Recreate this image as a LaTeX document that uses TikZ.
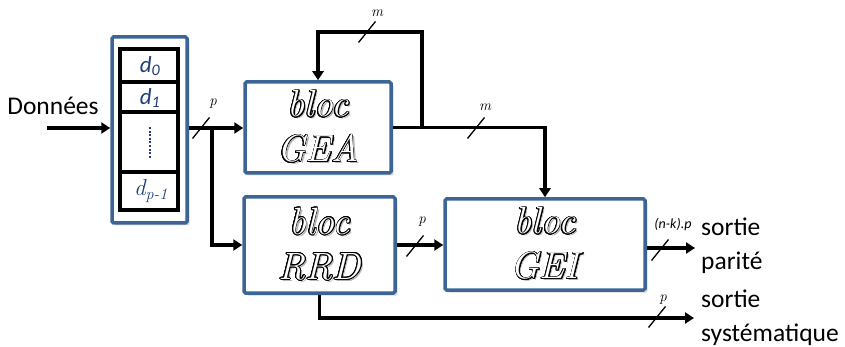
\documentclass[tikz,border=0pt]{standalone}
\usepackage{fontspec}
\newfontfamily\calib{Carlito}
\usepackage[copies]{contour}
\contourlength{0.75pt}
\contournumber{20}
\usetikzlibrary{arrows.meta,shadows}
\definecolor{bblue}{HTML}{3C6496}
\definecolor{dblue}{HTML}{1F3D7A}
\newcommand\outl[1]{\makebox[0pt][l]{\hspace{2pt}\raisebox{-2pt}{\color{black!30}#1}}\contour{black}{\color{white}#1}}
\begin{document}
\begin{tikzpicture}[x=1pt,y=-1pt,
  conn/.style={line width=3.5pt, draw=black},
  arr/.style={conn, -{Triangle[length=9pt,width=11pt]}},
  blk/.style={draw=bblue, line width=3.5pt, fill=white, rounded corners=1.5pt,
    drop shadow={opacity=0.3, shadow xshift=2.5pt, shadow yshift=-2.5pt},
    inner sep=0pt, align=center, font=\itshape\fontsize{38}{45}\selectfont},
  tickmark/.style={line width=1.3pt},
  lbl/.style={font=\itshape\fontsize{15}{15}\selectfont, inner sep=0pt},
  txt/.style={font=\calib\fontsize{25.5}{34}\selectfont, inner sep=0pt, align=left},
  dtxt/.style={text=dblue, inner sep=0pt}
 ]
\useasboundingbox (0,0) rectangle (845,347);

% register
\node[blk, minimum width=75pt, minimum height=186pt] (reg) at (149.5,130) {};
\node[draw=black, line width=3.5pt, fill=white, minimum width=58pt, minimum height=161pt, inner sep=0pt] (regin) at (149,129.5) {};
\draw[line width=3.5pt] (120,82) -- (178,82);
\draw[line width=3.5pt] (120,112) -- (178,112);
\draw[line width=3.5pt] (120,172) -- (178,172);
\node[dtxt, font=\calib\itshape\fontsize{23}{23}\selectfont] (d0) at (150,66) {d\textsubscript{0}};
\node[dtxt, font=\calib\itshape\fontsize{23}{23}\selectfont] (d1) at (150,98) {d\textsubscript{1}};
\draw[dblue, line width=2.2pt, dash pattern=on 2pt off 1.6pt] (150,127) -- (150,158);
\node[dtxt, font=\itshape\fontsize{23}{23}\selectfont] (dp) at (151,191) {d\textsubscript{p-1}};

% blocks
\node[blk, minimum width=146pt, minimum height=91pt] (gea) at (318,127.5) {\outl{bloc}\\\outl{GEA}};
\node[blk, minimum width=151pt, minimum height=96pt] (rrd) at (319.5,245) {\outl{bloc}\\\outl{RRD}};
\node[blk, minimum width=200pt, minimum height=91pt] (gei) at (545,244.5) {\outl{bloc}\\\outl{GEI}};

% texts
\node[txt, anchor=center] (don) at (53,106) {Données};
\node[txt, anchor=west] (spar) at (701,245.5) {sortie\\parité};
\node[txt, anchor=west] (ssys) at (701,317.5) {sortie\\systématique};

% connectors
\coordinate (inS) at (47,128);
\coordinate (br) at (212,128);
\coordinate (fb) at (422,127.5);
\coordinate (top) at (422,32);
\coordinate (par) at (695,248);
\coordinate (sys) at (694,318);
\draw[arr] (inS) -- (inS -| reg.west);
\draw[arr] (reg.east |- inS) -- (inS -| gea.west);
\draw[arr] (br) |- (rrd.west);
\draw[arr] (gea.east) -| (top) -| (gea.north);
\draw[arr] (fb) -| (gei.north);
\draw[arr] (rrd.east) -- (rrd.east -| gei.west);
\draw[arr] (gei.east |- par) -- (par);
\draw[arr] (rrd.south) |- (sys);

% ticks
\foreach \c in {(201,128),(367,32),(476,128),(415,246),(660,250),(657,317)}
  \draw[tickmark] \c ++(-8.5,10.5) -- ++(17,-21);

% labels
\node[lbl] (lp1) at (213,104) {p};
\node[lbl] (lm1) at (377,13) {m};
\node[lbl] (lm2) at (485,107) {m};
\node[lbl] (lp2) at (422,222) {p};
\node[lbl, font=\calib\itshape\fontsize{14}{14}\selectfont] (lnk) at (673,225) {(n-k).p};
\node[lbl] (lp3) at (663,300) {p};
\end{tikzpicture}
\end{document}
